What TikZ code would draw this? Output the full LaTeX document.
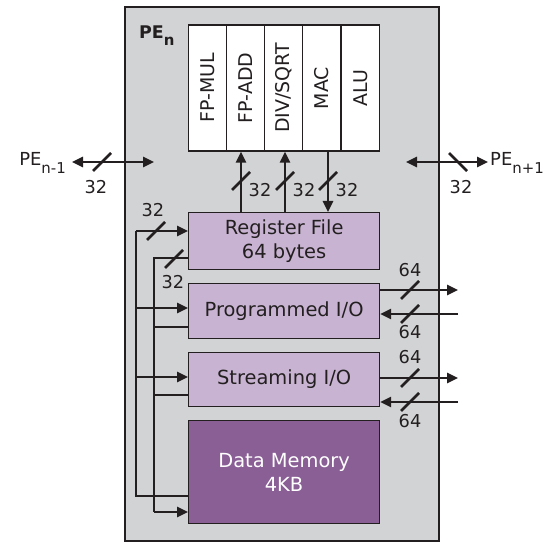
\documentclass[tikz,border=0pt]{standalone}
\usepackage{fontspec}
\setmainfont{DejaVu Sans}
\usetikzlibrary{arrows.meta,calc}

\definecolor{pegray}{HTML}{D1D3D4}
\definecolor{lilac}{HTML}{C8B4D2}
\definecolor{plum}{HTML}{8A5F96}
\definecolor{ink}{HTML}{231F20}

\tikzset{
  unitbox/.style={draw=ink, line width=1.2bp, fill=white, inner sep=0pt,
    font=\fontsize{19}{22}\selectfont, text=ink},
  blockbox/.style={draw=ink, line width=1.2bp, fill=lilac, inner sep=0pt,
    anchor=north west, minimum width=191bp, align=center,
    font=\fontsize{19.5}{24}\selectfont, text=ink},
  wire/.style={draw=ink, line width=2.5bp},
  tip/.style={-{Triangle[length=11bp,width=10bp]}},
  bitlbl/.style={inner sep=0pt, font=\fontsize{17.8}{21}\selectfont, text=ink},
  pelbl/.style={inner sep=0pt, font=\fontsize{18}{21}\selectfont, text=ink},
}

% lowered subscript in text font
\newcommand{\lowsub}[1]{\raisebox{-0.42em}{\fontsize{15}{15}\selectfont #1}}

% bus-width tick mark across a wire
\newcommand{\busmark}[3]{% centre x, centre y, direction (+1 = /, -1 = \)
  \draw[wire] ($(#1,#2)+(-9,9*#3)$) -- ($(#1,#2)+(9,-9*#3)$);}

\begin{document}
\begin{tikzpicture}[x=1bp,y=-1bp]
\useasboundingbox (0,0) rectangle (551,542);

% processing element frame
\path[fill=pegray, draw=ink, line width=2bp] (125,7) rectangle (439,541);
\node[anchor=base west, inner sep=0pt, font=\fontsize{17.5}{20}\selectfont\bfseries, text=ink]
  (pen) at (139,38.5) {PE\lowsub{\bfseries n}};

% functional units
\foreach \nm/\cx/\txt in {fpmul/207.5/{FP-MUL}, fpadd/246/{FP-ADD}, divsqrt/283.5/{DIV/SQRT},
                          mac/321.5/{MAC}, alu/360.5/{ALU}}{
  \node[unitbox, rotate=90, minimum width=126bp, minimum height=38.4bp]
    (\nm) at (\cx,88) {\txt};
}

% storage and I/O blocks
\node[blockbox, minimum height=57bp] (rf) at (188,212) {Register File\\64 bytes};
\node[blockbox, minimum height=55bp] (pio) at (188,283) {Programmed I/O};
\node[blockbox, minimum height=54bp] (sio) at (188,352) {Streaming I/O};
\node[blockbox, minimum height=103bp, fill=plum, text=white] (dm) at (188,420)
  {Data Memory\\4KB};

% neighbour links
\node[pelbl, anchor=base east] (pprev) at (66,166) {PE\lowsub{n-1}};
\node[pelbl, anchor=base west] (pnext) at (490,166) {PE\lowsub{n+1}};
\coordinate (lin) at (154,162);
\coordinate (rin) at (406,162);
\coordinate (lout) at (72,162);
\coordinate (rout) at (488,162);
\draw[wire, {Triangle[length=11bp,width=10bp]}-{Triangle[length=11bp,width=10bp]}]
  (lout) -- (lin);
\draw[wire, {Triangle[length=11bp,width=10bp]}-{Triangle[length=11bp,width=10bp]}]
  (rin) -- (rout);
\busmark{102}{162}{1}
\busmark{458}{162}{-1}
\node[bitlbl] (lw) at (96,187) {32};
\node[bitlbl] (rw) at (461,187) {32};

% register file <-> functional units
\coordinate (xa) at (241,0);
\coordinate (xb) at (285,0);
\coordinate (xc) at (328,0);
\draw[wire, tip] (rf.north -| xa) -- (fpadd.west -| xa);
\draw[wire, tip] (rf.north -| xb) -- (divsqrt.west -| xb);
\draw[wire, tip] (mac.west -| xc) -- (rf.north -| xc);
\busmark{241}{181}{1}
\busmark{285}{181}{1}
\busmark{328}{181}{1}
\node[bitlbl] (wa) at (260,190) {32};
\node[bitlbl] (wb) at (304,190) {32};
\node[bitlbl] (wc) at (347,190) {32};

% external I/O ports
\coordinate (px) at (458,0);
\coordinate (po) at (0,290);
\coordinate (pi) at (0,314);
\coordinate (so) at (0,378);
\coordinate (si) at (0,402);
\draw[wire, tip] (pio.east |- po) -- (px |- po);
\draw[wire, tip] (px |- pi) -- (pio.east |- pi);
\draw[wire, tip] (sio.east |- so) -- (px |- so);
\draw[wire, tip] (px |- si) -- (sio.east |- si);
\busmark{410}{290}{1}
\busmark{410}{314}{1}
\busmark{410}{378}{1}
\busmark{410}{402}{1}
\node[bitlbl] (po1) at (410,270) {64};
\node[bitlbl] (pi1) at (410,332) {64};
\node[bitlbl] (so1) at (410,357) {64};
\node[bitlbl] (si1) at (410,421) {64};

% memory read bus (outer) and write bus (inner)
\coordinate (ob) at (136,0);
\coordinate (ib) at (154,0);
\draw[wire, line join=miter] (dm.west |- {0,496}) -- (ob |- {0,496}) -- (ob |- {0,231});
\draw[wire, tip] (ob |- {0,231}) -- (rf.west |- {0,231});
\draw[wire, tip] (ob |- {0,308}) -- (pio.west |- {0,308});
\draw[wire, tip] (ob |- {0,377}) -- (sio.west |- {0,377});
\draw[wire, line join=miter] (rf.west |- {0,258}) -- (ib |- {0,258}) -- (ib |- {0,512});
\draw[wire] (pio.west |- {0,327}) -- (ib |- {0,327});
\draw[wire] (sio.west |- {0,395}) -- (ib |- {0,395});
\draw[wire, tip] (ib |- {0,512}) -- (dm.west |- {0,512});
\busmark{156}{231}{1}
\busmark{174}{259}{1}
\node[bitlbl] (ow) at (153,210) {32};
\node[bitlbl] (iw) at (173,282) {32};
\end{tikzpicture}
\end{document}
